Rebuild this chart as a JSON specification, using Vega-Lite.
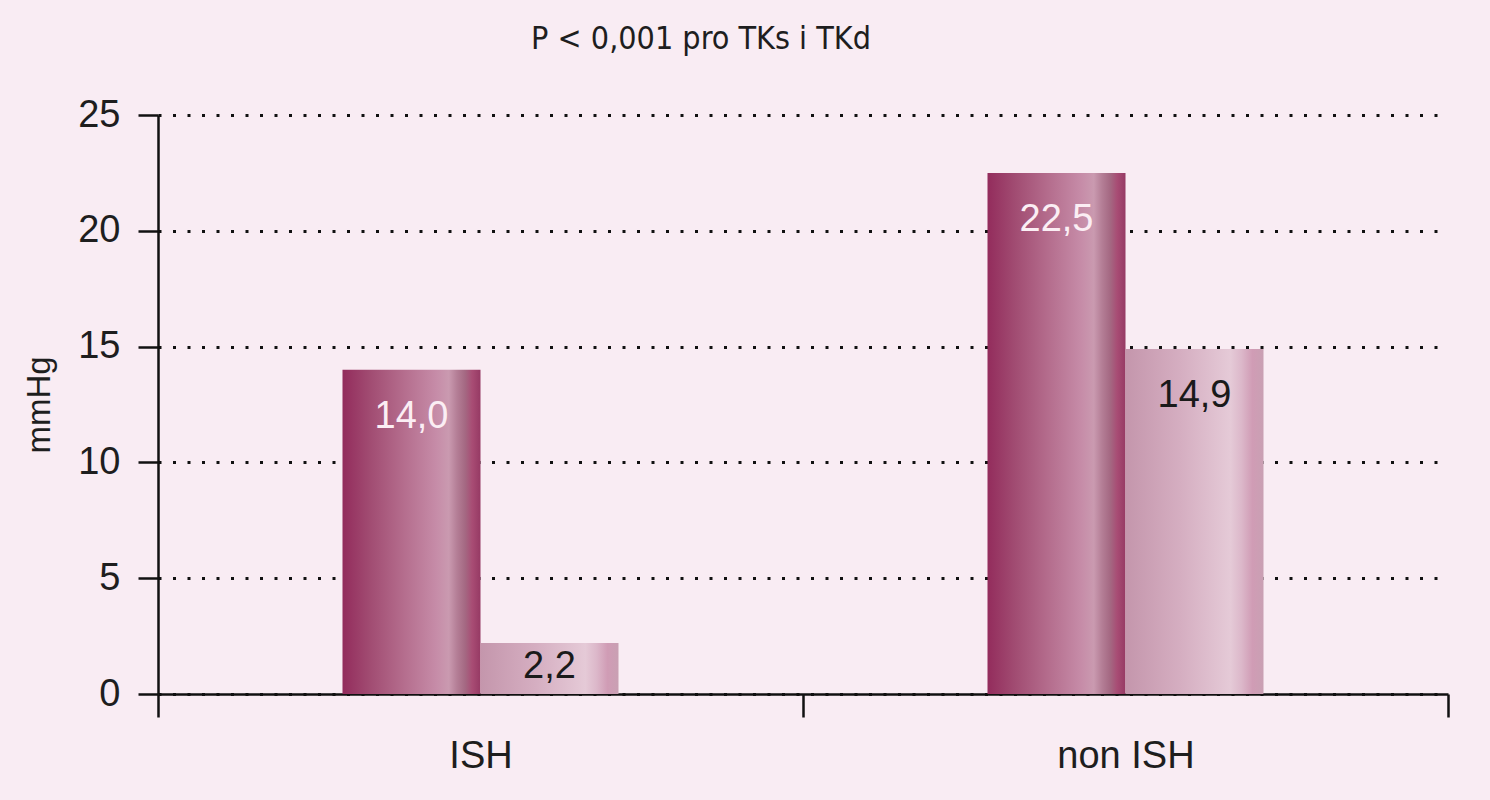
{
  "$schema": "https://vega.github.io/schema/vega-lite/v6.json",
  "width": 1290,
  "height": 579,
  "autosize": "none",
  "padding": {"left": 158, "top": 115, "right": 42, "bottom": 106},
  "background": "#f9ecf3",
  "title": {
    "text": "P < 0,001 pro TKs i TKd",
    "font": "Liberation Sans Narrow, DejaVu Sans Condensed, sans-serif",
    "fontSize": 32,
    "fontWeight": "normal",
    "color": "#1e1e1e",
    "anchor": "middle",
    "frame": "group",
    "baseline": "alphabetic",
    "offset": 15,
    "dx": -102
  },
  "data": {
    "values": [
      {"group": "ISH", "series": "TKs", "value": 14.0},
      {"group": "ISH", "series": "TKd", "value": 2.2},
      {"group": "non ISH", "series": "TKs", "value": 22.5},
      {"group": "non ISH", "series": "TKd", "value": 14.9}
    ]
  },
  "encoding": {
    "x": {
      "field": "group",
      "type": "nominal",
      "sort": ["ISH", "non ISH"],
      "scale": {"paddingInner": 0, "paddingOuter": 0},
      "axis": {
        "title": null,
        "labelAngle": 0,
        "tickBand": "extent",
        "tickSize": 23,
        "labelPadding": 20
      }
    },
    "xOffset": {
      "field": "series",
      "type": "nominal",
      "scale": {"domain": ["TKs", "TKd"], "range": [184.5, 460.5], "paddingInner": 0, "paddingOuter": 0}
    },
    "y": {
      "field": "value",
      "type": "quantitative",
      "scale": {"domain": [0, 25], "nice": false},
      "axis": {
        "title": "mmHg",
        "values": [0, 5, 10, 15, 20, 25],
        "grid": true,
        "tickSize": 20,
        "labelPadding": 18,
        "titlePadding": 21
      }
    }
  },
  "layer": [
    {
      "transform": [{"filter": "datum.series == 'TKs'"}],
      "mark": {
        "type": "bar",
        "color": {
          "gradient": "linear",
          "x1": 0, "x2": 1, "y1": 0, "y2": 0,
          "stops": [
            {"offset": 0, "color": "#932c5c"},
            {"offset": 0.2, "color": "#a14c72"},
            {"offset": 0.45, "color": "#b56e8e"},
            {"offset": 0.68, "color": "#c68ca8"},
            {"offset": 0.77, "color": "#ca9ab0"},
            {"offset": 0.83, "color": "#b47e96"},
            {"offset": 0.89, "color": "#a46882"},
            {"offset": 0.94, "color": "#a84c74"},
            {"offset": 1, "color": "#963a64"}
          ]
        }
      }
    },
    {
      "transform": [{"filter": "datum.series == 'TKd'"}],
      "mark": {
        "type": "bar",
        "color": {
          "gradient": "linear",
          "x1": 0, "x2": 1, "y1": 0, "y2": 0,
          "stops": [
            {"offset": 0, "color": "#c496ac"},
            {"offset": 0.4, "color": "#d5aec1"},
            {"offset": 0.76, "color": "#e5cad7"},
            {"offset": 0.84, "color": "#dcb8ca"},
            {"offset": 0.92, "color": "#d09cb5"},
            {"offset": 1, "color": "#c9a0b3"}
          ]
        }
      }
    },
    {
      "transform": [{"filter": "datum.value > 5"}],
      "mark": {
        "type": "text",
        "baseline": "middle",
        "dy": 47,
        "fontSize": 38,
        "font": "Liberation Sans, Arial, sans-serif"
      },
      "encoding": {
        "text": {"field": "value", "type": "quantitative", "format": ".1f"},
        "color": {
          "condition": {"test": "datum.series == 'TKs'", "value": "#fbeef4"},
          "value": "#1a1a1a"
        }
      }
    },
    {
      "transform": [{"filter": "datum.value <= 5"}],
      "mark": {
        "type": "text",
        "baseline": "middle",
        "dy": 24,
        "fontSize": 38,
        "font": "Liberation Sans, Arial, sans-serif"
      },
      "encoding": {
        "text": {"field": "value", "type": "quantitative", "format": ".1f"},
        "color": {
          "condition": {"test": "datum.series == 'TKs'", "value": "#fbeef4"},
          "value": "#1a1a1a"
        }
      }
    }
  ],
  "config": {
    "locale": {
      "number": {"decimal": ",", "thousands": " ", "grouping": [3], "currency": ["", ""]}
    },
    "view": {"stroke": null},
    "font": "Liberation Sans, Arial, sans-serif",
    "axis": {
      "domainColor": "#111111",
      "domainWidth": 2.5,
      "tickColor": "#111111",
      "tickWidth": 2.5,
      "labelColor": "#1e1e1e",
      "labelFontSize": 38,
      "labelFont": "Liberation Sans, Arial, sans-serif",
      "titleFont": "Liberation Sans, Arial, sans-serif",
      "titleFontSize": 33,
      "titleFontWeight": "normal",
      "titleColor": "#1e1e1e",
      "gridColor": "#111111",
      "gridWidth": 3,
      "gridDash": [3, 11.5],
      "gridOpacity": 1
    },
    "axisX": {"grid": false}
  }
}
